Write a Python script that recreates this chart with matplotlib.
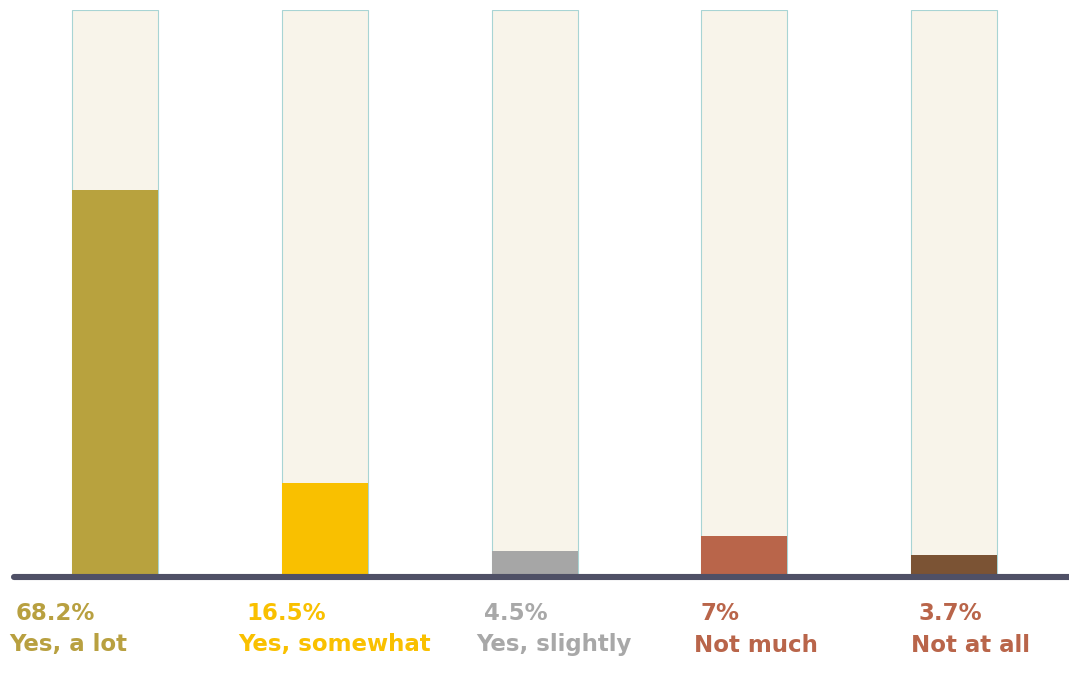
import matplotlib
matplotlib.use("Agg")
import matplotlib.pyplot as plt
from matplotlib.lines import Line2D

# Survey answers and their shares (percent)
categories = ["Yes, a lot", "Yes, somewhat", "Yes, slightly", "Not much", "Not at all"]
values = [68.2, 16.5, 4.5, 7, 3.7]
value_labels = ["68.2%", "16.5%", "4.5%", "7%", "3.7%"]
track_max = 100

bar_colors = ["#b8a23e", "#f9c000", "#a6a6a6", "#b9654a", "#7b5334"]
text_colors = ["#b8a040", "#f9c000", "#a8a8a8", "#b9654a", "#b9654a"]

W, H, DPI = 1069, 692, 100
fig = plt.figure(figsize=(W / DPI, H / DPI), dpi=DPI)
fig.patch.set_facecolor("white")

# axes spans the full width; bars sit between the top margin and the baseline
ax_bottom = (H - 576) / H
ax_top = (H - 10) / H
ax = fig.add_axes([0, ax_bottom, 1, ax_top - ax_bottom])
ax.set_facecolor("none")

x = list(range(len(categories)))
step = 209.75
first_center = 115
ax.set_xlim(-first_center / step, (W - first_center) / step)
ax.set_ylim(0, track_max)
bar_w = 86 / step

# full-height tracks behind each bar
ax.bar(x, [track_max] * len(x), width=bar_w, color="#f8f4ea",
       edgecolor="#a8d4d4", linewidth=0.8, zorder=1)
# value bars
ax.bar(x, values, width=bar_w, color=bar_colors, edgecolor="none", zorder=2)
ax.axis("off")

# baseline rule with a rounded left end
fig.add_artist(Line2D([14 / W, 1.02], [(H - 577) / H] * 2, transform=fig.transFigure,
                      color="#4f5066", linewidth=4.4, solid_capstyle="round", zorder=5))

pct_left = [16, 246, 484, 701, 918]
cat_left = [9, 238, 476, 694, 911]
font = dict(family="DejaVu Sans", fontweight="bold", fontsize=16.5)
for i in x:
    fig.text(pct_left[i] / W, (H - 613) / H, value_labels[i], color=text_colors[i],
             ha="left", va="center", **font)
    fig.text(cat_left[i] / W, (H - 645) / H, categories[i], color=text_colors[i],
             ha="left", va="center", **font)

fig.savefig("out.png", dpi=DPI, facecolor="white")
